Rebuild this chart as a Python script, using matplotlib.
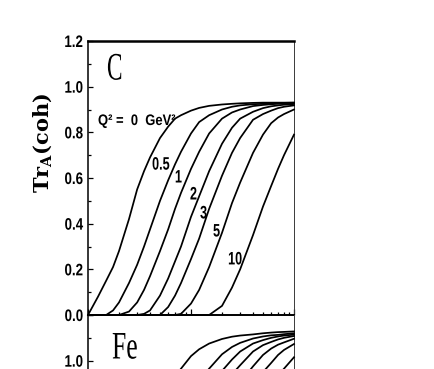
import matplotlib
matplotlib.use("Agg")
import matplotlib.pyplot as plt
from matplotlib.patheffects import AbstractPathEffect
from matplotlib.transforms import Affine2D
from matplotlib.ticker import FixedLocator, NullFormatter, LogLocator

# ---------------- data ----------------
nu = [1, 1.25, 1.5, 1.75, 2, 2.5, 3, 3.5, 4, 5, 6, 7, 8, 10, 12, 15, 20, 25, 30,
      40, 50, 60, 70, 80, 100]

q2_values = ["0", "0.5", "1", "2", "3", "5", "10"]

c_q0 = [0.0, 0.08, 0.15, 0.21, 0.28, 0.42, 0.55, 0.63, 0.69, 0.775, 0.825, 0.86, 0.875,
        0.895, 0.907, 0.916, 0.922, 0.925, 0.927, 0.929, 0.93, 0.93, 0.93, 0.93, 0.93]
c_q05 = [0.0, 0.0, 0.0, 0.02, 0.055, 0.14, 0.22, 0.30, 0.375, 0.50, 0.59, 0.66, 0.715,
         0.795, 0.845, 0.875, 0.90, 0.912, 0.918, 0.923, 0.925, 0.927, 0.928, 0.929, 0.93]
c_q1 = [0.0, 0.0, 0.0, 0.0, 0.0, 0.015, 0.055, 0.11, 0.17, 0.28, 0.375, 0.465, 0.535,
        0.64, 0.715, 0.795, 0.86, 0.887, 0.90, 0.915, 0.92, 0.923, 0.925, 0.926, 0.928]
c_q2 = [0.0, 0.0, 0.0, 0.0, 0.0, 0.0, 0.0, 0.005, 0.02, 0.085, 0.16, 0.235, 0.30,
        0.43, 0.52, 0.63, 0.75, 0.82, 0.86, 0.89, 0.906, 0.914, 0.918, 0.921, 0.924]
c_q3 = [0.0, 0.0, 0.0, 0.0, 0.0, 0.0, 0.0, 0.0, 0.0, 0.0, 0.035, 0.085, 0.14,
        0.245, 0.335, 0.465, 0.61, 0.71, 0.775, 0.855, 0.88, 0.895, 0.906, 0.912, 0.918]
c_q5 = [0.0, 0.0, 0.0, 0.0, 0.0, 0.0, 0.0, 0.0, 0.0, 0.0, 0.0, 0.0, 0.005,
        0.05, 0.11, 0.21, 0.36, 0.49, 0.58, 0.71, 0.79, 0.84, 0.865, 0.88, 0.90]
c_q10 = [0.0, 0.0, 0.0, 0.0, 0.0, 0.0, 0.0, 0.0, 0.0, 0.0, 0.0, 0.0, 0.0,
         0.0, 0.0, 0.0, 0.04, 0.12, 0.20, 0.35, 0.475, 0.565, 0.64, 0.70, 0.79]

fe_q0 = [0.0, 0.01, 0.05, 0.12, 0.22, 0.38, 0.50, 0.60, 0.68, 0.80, 0.88, 0.93, 0.965,
         1.02, 1.05, 1.075, 1.095, 1.105, 1.11, 1.115, 1.12, 1.123, 1.125, 1.126, 1.128]
fe_q05 = [0.0, 0.0, 0.0, 0.01, 0.02, 0.10, 0.20, 0.30, 0.38, 0.52, 0.62, 0.70, 0.76,
          0.86, 0.915, 0.965, 1.028, 1.06, 1.078, 1.097, 1.106, 1.111, 1.113, 1.116, 1.12]
fe_q1 = [0.0, 0.0, 0.0, 0.0, 0.0, 0.03, 0.08, 0.14, 0.20, 0.32, 0.43, 0.52, 0.60,
         0.71, 0.79, 0.88, 0.955, 1.005, 1.04, 1.075, 1.09, 1.10, 1.106, 1.11, 1.114]
fe_q2 = [0.0, 0.0, 0.0, 0.0, 0.0, 0.0, 0.03, 0.06, 0.10, 0.19, 0.28, 0.36, 0.43,
         0.55, 0.65, 0.76, 0.88, 0.94, 0.98, 1.04, 1.068, 1.082, 1.093, 1.10, 1.108]
fe_q3 = [0.0, 0.0, 0.0, 0.0, 0.0, 0.0, 0.0, 0.02, 0.04, 0.09, 0.15, 0.21, 0.27,
         0.38, 0.48, 0.60, 0.75, 0.85, 0.905, 0.975, 1.025, 1.053, 1.07, 1.08, 1.096]
fe_q5 = [0.0, 0.0, 0.0, 0.0, 0.0, 0.0, 0.0, 0.0, 0.0, 0.03, 0.07, 0.11, 0.16,
         0.24, 0.32, 0.42, 0.57, 0.70, 0.78, 0.895, 0.95, 0.99, 1.025, 1.047, 1.073]
fe_q10 = [0.0, 0.0, 0.0, 0.0, 0.0, 0.0, 0.0, 0.0, 0.0, 0.0, 0.0, 0.03, 0.05,
          0.10, 0.16, 0.24, 0.36, 0.48, 0.57, 0.73, 0.83, 0.895, 0.935, 0.965, 1.015]

c_curves = [c_q0, c_q05, c_q1, c_q2, c_q3, c_q5, c_q10]
fe_curves = [fe_q0, fe_q05, fe_q1, fe_q2, fe_q3, fe_q5, fe_q10]

y_major = [0.0, 0.2, 0.4, 0.6, 0.8, 1.0, 1.2]
c_y_labels = ["0.0", "0.2", "0.4", "0.6", "0.8", "1.0", "1.2"]
fe_y_labels = ["", "", "", "", "", "1.0", ""]   # only 1.0 is inside the picture
y_minor = [0.1, 0.3, 0.5, 0.7, 0.9, 1.1]


# ---------------- helpers ----------------
class Squeeze(AbstractPathEffect):
    """Draw glyphs horizontally condensed (text stays a real Text artist)."""
    def __init__(self, sx, anchor="left"):
        super().__init__()
        self.sx = sx
        self.anchor = anchor

    def draw_path(self, renderer, gc, tpath, affine, rgbFace=None):
        v = tpath.vertices
        x0 = 0.0
        if len(v):
            if self.anchor == "right":
                x0 = v[:, 0].max()
            elif self.anchor == "center":
                x0 = 0.5 * (v[:, 0].max() + v[:, 0].min())
        t = Affine2D().translate(-x0, 0).scale(self.sx, 1.0).translate(x0, 0)
        renderer.draw_path(gc, tpath, t + affine, rgbFace)


plt.rcParams["mathtext.fontset"] = "custom"
plt.rcParams["mathtext.rm"] = "DejaVu Serif:bold"
plt.rcParams["mathtext.it"] = "DejaVu Serif:bold"
plt.rcParams["mathtext.bf"] = "DejaVu Serif:bold"

W, H = 434, 369
fig = plt.figure(figsize=(W / 100, H / 100), dpi=100)


def rect(l, t, r, b):
    return [l / W, 1 - b / H, (r - l) / W, (b - t) / H]


axC = fig.add_axes(rect(88, 41, 294, 315))
axF = fig.add_axes(rect(88, 315, 294, 589))

for ax, curves in ((axC, c_curves), (axF, fe_curves)):
    for y in curves:
        ax.plot(nu, y, color="black", lw=1.25, clip_on=False, zorder=3)
    ax.set_xscale("log")
    ax.set_xlim(1, 100)
    ax.set_ylim(0, 1.2)
    ax.xaxis.set_major_locator(LogLocator(base=10))
    ax.xaxis.set_minor_locator(LogLocator(base=10, subs=range(2, 10)))
    ax.xaxis.set_major_formatter(NullFormatter())
    ax.xaxis.set_minor_formatter(NullFormatter())
    ax.yaxis.set_minor_locator(FixedLocator(y_minor))
    ax.tick_params(axis="both", which="both", direction="in", top=False, right=False,
                   color="black")
    ax.tick_params(axis="y", which="major", length=3.3, width=0.9, pad=3.6,
                   labelsize=12)
    ax.tick_params(axis="y", which="minor", length=2.0, width=0.9)
    ax.tick_params(axis="x", which="major", length=4.0, width=0.9)
    ax.tick_params(axis="x", which="minor", length=2.2, width=0.9)
    ax.spines["left"].set_linewidth(1.1)
    ax.spines["right"].set_linewidth(0.7)
    ax.spines["right"].set_color("#3a3a3a")
    ax.patch.set_alpha(0)

axC.spines["top"].set_linewidth(1.8)
axC.spines["bottom"].set_linewidth(1.4)
axF.spines["top"].set_visible(False)
axF.spines["bottom"].set_linewidth(1.4)

axC.set_yticks(y_major)
axC.set_yticklabels(c_y_labels)
axF.set_yticks(y_major)
axF.set_yticklabels(fe_y_labels)

for ax in (axC, axF):
    for lbl in ax.get_yticklabels():
        lbl.set_fontfamily("Liberation Sans")
        lbl.set_fontweight("bold")
        lbl.set_path_effects([Squeeze(0.8, "right")])

# panel / curve labels (positions in axes fractions)
txt_kw = dict(ha="left", va="center", color="black")
axC.text(0.092, 0.894, "C", transform=axC.transAxes, fontsize=28,
         family="Liberation Serif", path_effects=[Squeeze(0.6)], **txt_kw)
axF.text(0.1165, 0.876, "Fe", transform=axF.transAxes, fontsize=28,
         family="Liberation Serif", path_effects=[Squeeze(0.66)], **txt_kw)
axC.text(0.0485, 0.708, "Q\u00b2 =  0  GeV\u00b2", transform=axC.transAxes,
         fontsize=11, family="Liberation Sans", weight="bold",
         path_effects=[Squeeze(0.85)], **txt_kw)

curve_label_pos = [(0.311, 0.547), (0.422, 0.500), (0.495, 0.438),
                   (0.544, 0.369), (0.607, 0.303), (0.680, 0.201)]
for lab, (xf, yf) in zip(q2_values[1:], curve_label_pos):
    axC.text(xf, yf, lab, transform=axC.transAxes, fontsize=13,
             family="Liberation Sans", weight="bold",
             path_effects=[Squeeze(0.7)], **txt_kw)

fig.text(43 / W, 1 - 143 / H, r"Tr$_{\mathrm{A}}$(coh)", rotation=90,
         ha="center", va="center", fontsize=15, family="DejaVu Serif",
         weight="bold")

fig.savefig("out.png", dpi=100)
